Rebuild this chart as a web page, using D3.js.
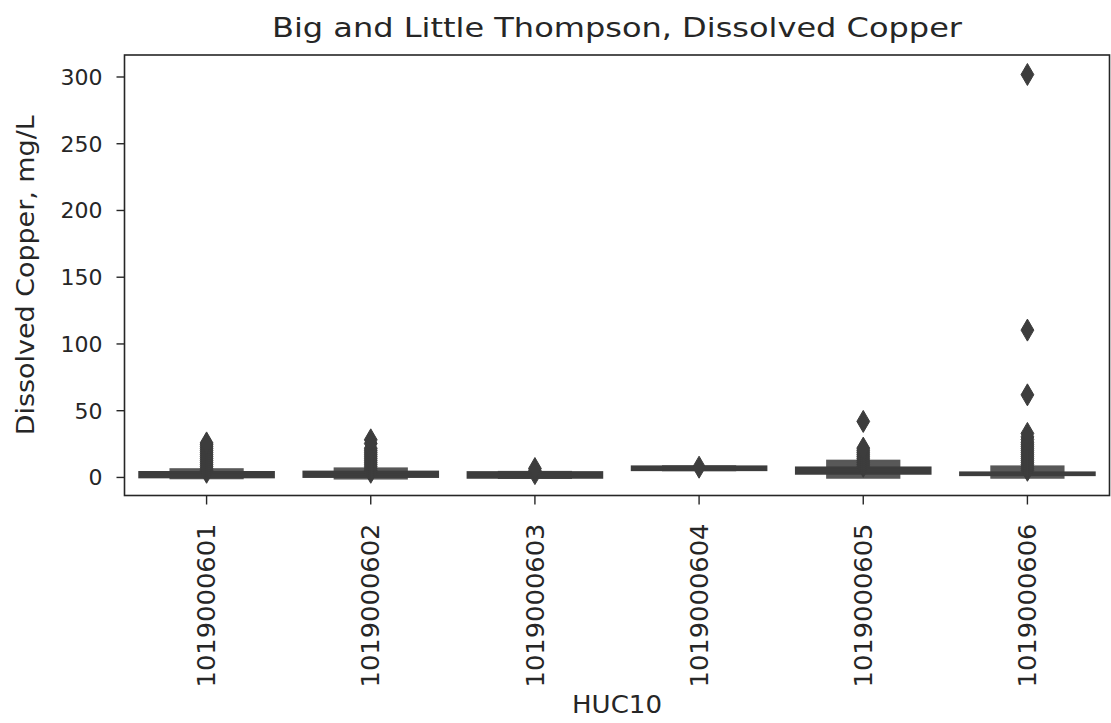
<!DOCTYPE html>
<html>
<head>
<meta charset="utf-8">
<script src="https://cdn.jsdelivr.net/npm/d3@7"></script>
<style>
  html, body { margin: 0; padding: 0; background: #fff; }
  svg { display: block; }
  text { font-family: "DejaVu Sans", sans-serif; fill: #262626; }
</style>
</head>
<body>
<svg id="chart" width="1111" height="723"></svg>
<script>
// ---- data ----
const categories = ["1019000601", "1019000602", "1019000603", "1019000604", "1019000605", "1019000606"];
// letter-value boxes: level 0 = quartiles, level 1 = next letter value
const q1      = [-0.3, 0.0, -0.6, 5.1, 2.4, 1.35];
const q3      = [3.7, 4.0, 3.6, 7.9, 7.1, 3.4];
const lv1Low  = [-1.0, -1.2, -0.8, 5.0, -0.6, -0.6];
const lv1High = [5.8, 6.4, 3.8, 8.0, 12.2, 7.9];
const medians = [1.5, 1.8, 1.5, 6.5, 4.5, 2.3];
const outliers = [
  [3.5, 5, 6.5, 8, 9.5, 11, 12.5, 14, 15.5, 17, 18.5, 20, 21.5, 23, 24.5, 25.5],
  [3.5, 5, 6.5, 8, 9.5, 11, 12.5, 14, 15.5, 17, 18.5, 20, 21.5, 25, 27.8],
  [2.5, 4.5, 6.3],
  [7.3],
  [8, 9.5, 11, 12.5, 14, 15.5, 17, 18.5, 20, 21.6, 41.6],
  [5, 6.5, 8, 9.5, 11, 12.5, 14, 15.5, 17, 18.5, 20, 21.5, 23, 24.5, 26, 28, 30, 32.6, 61.5, 110, 301.5]
];
const yTicks = [0, 50, 100, 150, 200, 250, 300];
const title = "Big and Little Thompson, Dissolved Copper";
const xLabel = "HUC10";
const yLabel = "Dissolved Copper, mg/L";

// ---- layout ----
const mLeft = 124.5, mRight = 1109.5, mTop = 55, mBottom = 495.5;
const svg = d3.select("#chart");

const x = d3.scaleBand().domain(categories).range([mLeft, mRight]).padding(0);
const y = d3.scaleLinear().domain([-13.9, 316.1]).range([mBottom, mTop]);

const darkCol = "#3d3d3d";
const midCol = "#585858";

// boxes
const g = svg.append("g");
categories.forEach((c, i) => {
  const cx = x(c) + x.bandwidth() / 2;
  const w1 = x.bandwidth() * 0.44;
  const w0 = x.bandwidth() * 0.82;
  g.append("rect")
    .attr("x", cx - w1 / 2).attr("width", w1)
    .attr("y", y(lv1High[i])).attr("height", y(lv1Low[i]) - y(lv1High[i]))
    .attr("fill", midCol).attr("stroke", midCol).attr("stroke-width", 2);
  g.append("rect")
    .attr("x", cx - w0 / 2).attr("width", w0)
    .attr("y", y(q3[i])).attr("height", y(q1[i]) - y(q3[i]))
    .attr("fill", darkCol).attr("stroke", darkCol).attr("stroke-width", 2);
  g.append("line")
    .attr("x1", cx - w0 / 2).attr("x2", cx + w0 / 2)
    .attr("y1", y(medians[i])).attr("y2", y(medians[i]))
    .attr("stroke", darkCol).attr("stroke-width", 2);
  const hh = 11, hw = 6.4;
  g.selectAll(null).data(outliers[i]).enter().append("path")
    .attr("d", v => {
      const py = y(v);
      return `M${cx},${py - hh}L${cx + hw},${py}L${cx},${py + hh}L${cx - hw},${py}Z`;
    })
    .attr("fill", darkCol).attr("stroke", darkCol).attr("stroke-width", 1);
});

// frame
svg.append("rect")
  .attr("x", mLeft).attr("y", mTop)
  .attr("width", mRight - mLeft).attr("height", mBottom - mTop)
  .attr("fill", "none").attr("stroke", "#262626").attr("stroke-width", 1.6);

// y axis
const yAxis = d3.axisLeft(y).tickValues(yTicks).tickSize(8).tickPadding(14);
const ya = svg.append("g").attr("transform", `translate(${mLeft},0)`).call(yAxis);
ya.select(".domain").remove();
ya.selectAll(".tick line").attr("stroke", "#262626").attr("stroke-width", 1.4);
ya.selectAll(".tick text")
  .attr("font-size", 22).attr("font-family", "DejaVu Sans").attr("fill", "#262626")
  .attr("dy", "0.36em");

// x axis
const xAxis = d3.axisBottom(x).tickSize(9).tickPadding(14);
const xa = svg.append("g").attr("transform", `translate(0,${mBottom})`).call(xAxis);
xa.select(".domain").remove();
xa.selectAll(".tick line").attr("stroke", "#262626").attr("stroke-width", 1.4);
xa.selectAll(".tick text")
  .attr("font-size", 24).attr("font-family", "DejaVu Sans").attr("fill", "#262626")
  .attr("text-anchor", "end")
  .attr("transform", "rotate(-90)")
  .attr("x", -28).attr("y", 0).attr("dy", "0.36em")
  .attr("textLength", 164).attr("lengthAdjust", "spacingAndGlyphs");

// title
svg.append("text")
  .attr("x", (mLeft + mRight) / 2).attr("y", 37)
  .attr("text-anchor", "middle")
  .attr("font-size", 27)
  .attr("textLength", 690).attr("lengthAdjust", "spacingAndGlyphs")
  .text(title);

// x label
svg.append("text")
  .attr("x", (mLeft + mRight) / 2).attr("y", 713)
  .attr("text-anchor", "middle")
  .attr("font-size", 25)
  .attr("textLength", 90).attr("lengthAdjust", "spacingAndGlyphs")
  .text(xLabel);

// y label
svg.append("text")
  .attr("transform", `translate(34,${(mTop + mBottom) / 2}) rotate(-90)`)
  .attr("text-anchor", "middle")
  .attr("font-size", 25)
  .attr("textLength", 320).attr("lengthAdjust", "spacingAndGlyphs")
  .text(yLabel);
</script>
</body>
</html>
